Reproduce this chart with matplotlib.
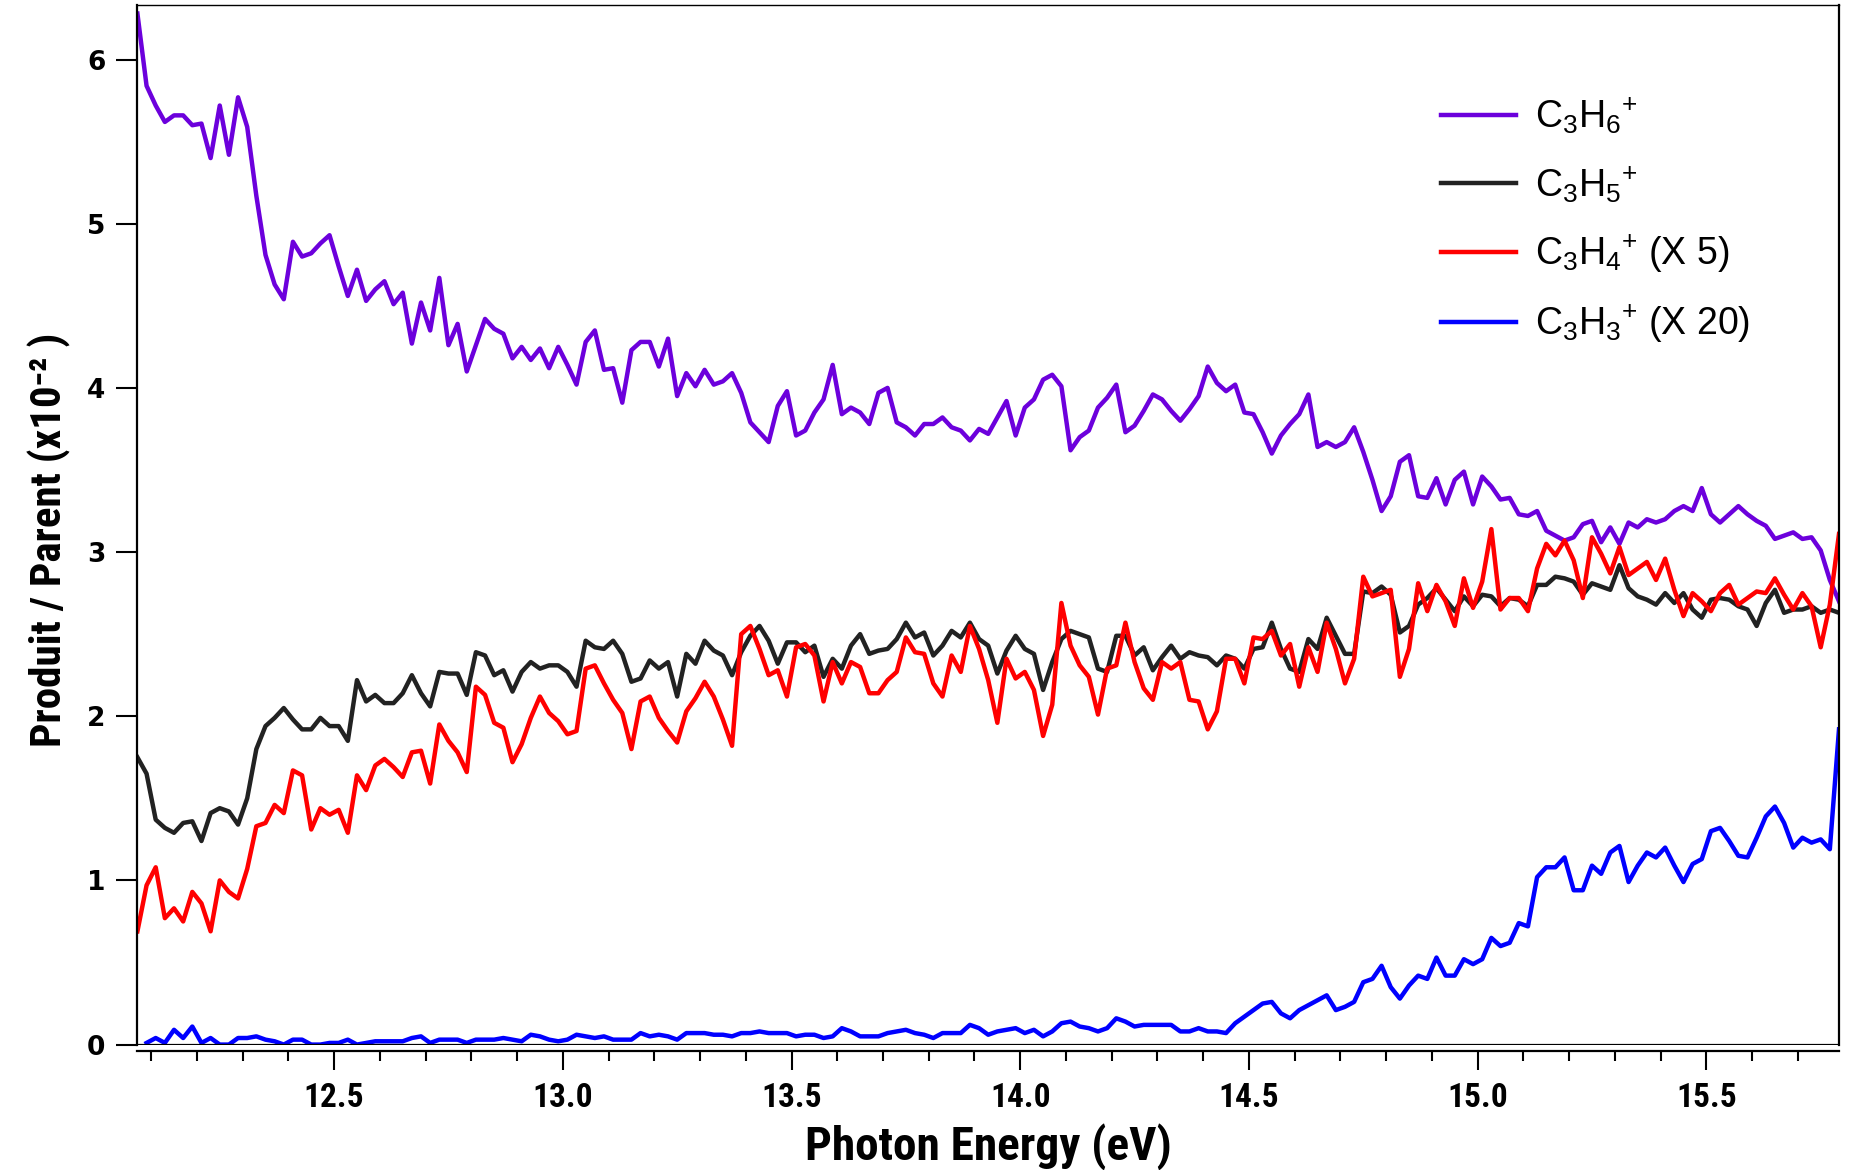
import numpy as np
import matplotlib
matplotlib.use('Agg')
import matplotlib.pyplot as plt
from matplotlib import font_manager as fm
from matplotlib.ticker import MultipleLocator

# photon energy scan: first point and step (eV)
e_start = 12.07
e_step = 0.02

# Produit / Parent (x10^-2)
c3h6 = [6.28, 5.84, 5.72, 5.62, 5.66, 5.66, 5.60, 5.61, 5.40, 5.72,
        5.42, 5.77, 5.59, 5.17, 4.81, 4.63, 4.54, 4.89, 4.80, 4.82,
        4.88, 4.93, 4.74, 4.56, 4.72, 4.53, 4.60, 4.65, 4.51, 4.58,
        4.27, 4.52, 4.35, 4.67, 4.26, 4.39, 4.10, 4.26, 4.42, 4.36,
        4.33, 4.18, 4.25, 4.17, 4.24, 4.12, 4.25, 4.14, 4.02, 4.28,
        4.35, 4.11, 4.12, 3.91, 4.23, 4.28, 4.28, 4.13, 4.30, 3.95,
        4.09, 4.01, 4.11, 4.02, 4.04, 4.09, 3.97, 3.79, 3.73, 3.67,
        3.89, 3.98, 3.71, 3.74, 3.85, 3.93, 4.14, 3.84, 3.88, 3.85,
        3.78, 3.97, 4.00, 3.79, 3.76, 3.71, 3.78, 3.78, 3.82, 3.76,
        3.74, 3.68, 3.75, 3.72, 3.82, 3.92, 3.71, 3.88, 3.93, 4.05,
        4.08, 4.01, 3.62, 3.70, 3.74, 3.88, 3.94, 4.02, 3.73, 3.77,
        3.86, 3.96, 3.93, 3.86, 3.80, 3.87, 3.95, 4.13, 4.03, 3.98,
        4.02, 3.85, 3.84, 3.73, 3.60, 3.71, 3.78, 3.84, 3.96, 3.64,
        3.67, 3.64, 3.67, 3.76, 3.61, 3.44, 3.25, 3.34, 3.55, 3.59,
        3.34, 3.33, 3.45, 3.29, 3.44, 3.49, 3.29, 3.46, 3.40, 3.32,
        3.33, 3.23, 3.22, 3.25, 3.13, 3.10, 3.07, 3.09, 3.17, 3.19,
        3.06, 3.15, 3.05, 3.18, 3.15, 3.20, 3.18, 3.20, 3.25, 3.28,
        3.25, 3.39, 3.23, 3.18, 3.23, 3.28, 3.23, 3.19, 3.16, 3.08,
        3.10, 3.12, 3.08, 3.09, 3.01, 2.83, 2.70]

c3h5 = [1.75, 1.65, 1.37, 1.32, 1.29, 1.35, 1.36, 1.24, 1.41, 1.44,
        1.42, 1.34, 1.50, 1.80, 1.94, 1.99, 2.05, 1.98, 1.92, 1.92,
        1.99, 1.94, 1.94, 1.85, 2.22, 2.09, 2.13, 2.08, 2.08, 2.14,
        2.25, 2.14, 2.06, 2.27, 2.26, 2.26, 2.13, 2.39, 2.37, 2.25,
        2.28, 2.15, 2.27, 2.33, 2.29, 2.31, 2.31, 2.27, 2.18, 2.46,
        2.42, 2.41, 2.46, 2.38, 2.21, 2.23, 2.34, 2.29, 2.33, 2.12,
        2.38, 2.32, 2.46, 2.40, 2.37, 2.25, 2.39, 2.49, 2.55, 2.46,
        2.32, 2.45, 2.45, 2.39, 2.43, 2.24, 2.35, 2.29, 2.43, 2.50,
        2.38, 2.40, 2.41, 2.47, 2.57, 2.48, 2.51, 2.37, 2.43, 2.52,
        2.48, 2.57, 2.47, 2.43, 2.26, 2.40, 2.49, 2.41, 2.38, 2.16,
        2.33, 2.47, 2.52, 2.50, 2.48, 2.29, 2.27, 2.49, 2.49, 2.37,
        2.42, 2.28, 2.36, 2.43, 2.35, 2.39, 2.37, 2.36, 2.31, 2.37,
        2.35, 2.29, 2.41, 2.42, 2.57, 2.41, 2.29, 2.27, 2.47, 2.41,
        2.60, 2.49, 2.38, 2.38, 2.76, 2.75, 2.79, 2.74, 2.51, 2.55,
        2.68, 2.72, 2.78, 2.71, 2.64, 2.73, 2.67, 2.74, 2.73, 2.67,
        2.72, 2.71, 2.67, 2.80, 2.80, 2.85, 2.84, 2.82, 2.74, 2.81,
        2.79, 2.77, 2.92, 2.78, 2.73, 2.71, 2.68, 2.75, 2.69, 2.75,
        2.65, 2.60, 2.71, 2.72, 2.71, 2.67, 2.65, 2.55, 2.69, 2.77,
        2.63, 2.65, 2.65, 2.67, 2.63, 2.65, 2.63]

# C3H4+ already multiplied by 5
c3h4_x5 = [0.69, 0.97, 1.08, 0.77, 0.83, 0.75, 0.93, 0.86, 0.69, 1.00,
           0.93, 0.89, 1.07, 1.33, 1.35, 1.46, 1.41, 1.67, 1.64, 1.31,
           1.44, 1.40, 1.43, 1.29, 1.64, 1.55, 1.70, 1.74, 1.69, 1.63,
           1.78, 1.79, 1.59, 1.95, 1.85, 1.78, 1.66, 2.18, 2.13, 1.96,
           1.93, 1.72, 1.83, 1.99, 2.12, 2.02, 1.97, 1.89, 1.91, 2.29,
           2.31, 2.20, 2.10, 2.02, 1.80, 2.09, 2.12, 1.99, 1.91, 1.84,
           2.03, 2.11, 2.21, 2.12, 1.98, 1.82, 2.50, 2.55, 2.41, 2.25,
           2.28, 2.12, 2.42, 2.44, 2.37, 2.09, 2.33, 2.20, 2.33, 2.30,
           2.14, 2.14, 2.22, 2.27, 2.48, 2.39, 2.38, 2.20, 2.12, 2.37,
           2.27, 2.55, 2.41, 2.22, 1.96, 2.35, 2.23, 2.27, 2.16, 1.88,
           2.07, 2.69, 2.43, 2.31, 2.24, 2.01, 2.29, 2.31, 2.57, 2.33,
           2.17, 2.10, 2.33, 2.29, 2.33, 2.10, 2.09, 1.92, 2.03, 2.35,
           2.35, 2.20, 2.48, 2.47, 2.52, 2.37, 2.44, 2.18, 2.42, 2.27,
           2.57, 2.41, 2.20, 2.35, 2.85, 2.73, 2.75, 2.77, 2.24, 2.41,
           2.81, 2.64, 2.80, 2.70, 2.55, 2.84, 2.66, 2.82, 3.14, 2.65,
           2.72, 2.72, 2.64, 2.90, 3.05, 2.98, 3.07, 2.95, 2.72, 3.09,
           2.99, 2.87, 3.03, 2.86, 2.90, 2.94, 2.83, 2.96, 2.77, 2.61,
           2.75, 2.70, 2.64, 2.75, 2.80, 2.68, 2.72, 2.76, 2.75, 2.84,
           2.74, 2.65, 2.75, 2.67, 2.42, 2.68, 3.11]

# C3H3+ already multiplied by 20 (no point at the first energy)
c3h3_x20 = [np.nan, 0.01, 0.04, 0.01, 0.09, 0.04, 0.11, 0.01, 0.04, 0.00,
            0.00, 0.04, 0.04, 0.05, 0.03, 0.02, 0.00, 0.03, 0.03, 0.00,
            0.00, 0.01, 0.01, 0.03, 0.00, 0.01, 0.02, 0.02, 0.02, 0.02,
            0.04, 0.05, 0.01, 0.03, 0.03, 0.03, 0.01, 0.03, 0.03, 0.03,
            0.04, 0.03, 0.02, 0.06, 0.05, 0.03, 0.02, 0.03, 0.06, 0.05,
            0.04, 0.05, 0.03, 0.03, 0.03, 0.07, 0.05, 0.06, 0.05, 0.03,
            0.07, 0.07, 0.07, 0.06, 0.06, 0.05, 0.07, 0.07, 0.08, 0.07,
            0.07, 0.07, 0.05, 0.06, 0.06, 0.04, 0.05, 0.10, 0.08, 0.05,
            0.05, 0.05, 0.07, 0.08, 0.09, 0.07, 0.06, 0.04, 0.07, 0.07,
            0.07, 0.12, 0.10, 0.06, 0.08, 0.09, 0.10, 0.07, 0.09, 0.05,
            0.08, 0.13, 0.14, 0.11, 0.10, 0.08, 0.10, 0.16, 0.14, 0.11,
            0.12, 0.12, 0.12, 0.12, 0.08, 0.08, 0.10, 0.08, 0.08, 0.07,
            0.13, 0.17, 0.21, 0.25, 0.26, 0.19, 0.16, 0.21, 0.24, 0.27,
            0.30, 0.21, 0.23, 0.26, 0.38, 0.40, 0.48, 0.35, 0.28, 0.36,
            0.42, 0.40, 0.53, 0.42, 0.42, 0.52, 0.49, 0.52, 0.65, 0.60,
            0.62, 0.74, 0.72, 1.02, 1.08, 1.08, 1.14, 0.94, 0.94, 1.09,
            1.04, 1.17, 1.21, 0.99, 1.09, 1.17, 1.14, 1.20, 1.09, 0.99,
            1.10, 1.13, 1.30, 1.32, 1.24, 1.15, 1.14, 1.26, 1.39, 1.45,
            1.35, 1.20, 1.26, 1.23, 1.25, 1.19, 1.92]

labels = [r'C$_{\mathrm{3}}$H$_{\mathrm{6}}$$^{\mathrm{+}}$',
          r'C$_{\mathrm{3}}$H$_{\mathrm{5}}$$^{\mathrm{+}}$',
          r'C$_{\mathrm{3}}$H$_{\mathrm{4}}$$^{\mathrm{+}}$ (X 5)',
          r'C$_{\mathrm{3}}$H$_{\mathrm{3}}$$^{\mathrm{+}}$ (X 20)']
colors = ['#6C00DC', '#222222', '#FF0000', '#0000FF']

energy = e_start + e_step * np.arange(len(c3h6))

# pick a condensed bold face for the axis texts if one is installed
cands = ['Liberation Sans Narrow', 'Roboto Condensed', 'Noto Sans Condensed',
         'Open Sans Condensed', 'DejaVu Sans Condensed', 'DejaVu Sans']
path = fm.findfont(fm.FontProperties(family=cands, weight='bold', stretch='condensed'))
entry = next(f for f in fm.fontManager.ttflist if f.fname == path)
cond = dict(fontfamily=[entry.name, 'DejaVu Sans'], fontweight='bold',
            fontstretch=entry.stretch)

plt.rcParams['mathtext.fontset'] = 'custom'
plt.rcParams['mathtext.rm'] = 'Liberation Sans'

fig = plt.figure(figsize=(18.57, 11.70), dpi=100)
ax = fig.add_axes([0.0740, 0.1072, 0.9163, 0.8882])

for y, lab, col in zip([c3h6, c3h5, c3h4_x5, c3h3_x20], labels, colors):
    ax.plot(energy, y, color=col, lw=3.2, label=lab)

ax.axhline(0, color='black', lw=1.6, zorder=5)

ax.set_xlim(energy[0], energy[-1])
ax.set_ylim(0, 6.33)

ax.xaxis.set_major_locator(MultipleLocator(0.5))
ax.xaxis.set_minor_locator(MultipleLocator(0.1))
ax.yaxis.set_major_locator(MultipleLocator(1))

for side in ['left', 'right', 'bottom']:
    ax.spines[side].set_linewidth(1.6)
ax.spines['top'].set_linewidth(1.0)
ax.spines['bottom'].set_position(('outward', 4.5))

ax.tick_params(axis='x', which='major', direction='out', length=13.5, width=1.5, pad=9)
ax.tick_params(axis='x', which='minor', direction='out', length=7.5, width=1.5)
ax.tick_params(axis='y', which='major', direction='out', length=15, width=1.5, pad=8)

for t in ax.get_xticklabels():
    t.update(cond)
    t.set_fontsize(24)
for t in ax.get_yticklabels():
    t.set_fontfamily('DejaVu Sans')
    t.set_fontweight('bold')
    t.set_fontsize(19)

ax.set_xlabel('Photon Energy (eV)', fontsize=34, **cond)
ax.set_ylabel('Produit / Parent (x10\u207b\u00b2 )', fontsize=31, **cond)
ax.xaxis.set_label_coords(0.5, -0.0755)
ax.yaxis.set_label_coords(-0.039, 0.486)

ax.legend(loc='upper left', bbox_to_anchor=(0.766, 0.913), frameon=False,
          prop={'family': 'Liberation Sans', 'size': 27},
          handlelength=2.0, handletextpad=0.5, labelspacing=0.75,
          borderpad=0, borderaxespad=0)

fig.savefig('out.png', dpi=100)
